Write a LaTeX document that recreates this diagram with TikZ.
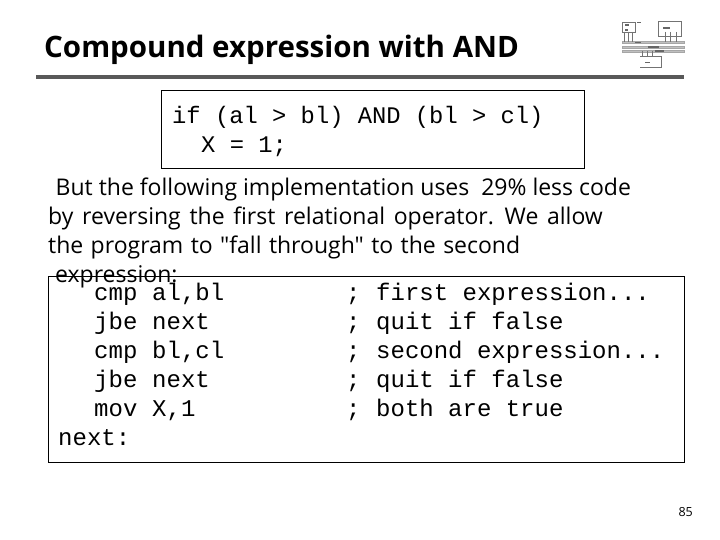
\documentclass[tikz,border=0pt]{standalone}
\usepackage{fontspec}
\setmainfont{Open Sans}
\newfontfamily\bodyfont{Open Sans}
\setmonofont{Liberation Mono}
\begin{document}
\begin{tikzpicture}[x=1pt,y=-1pt,
  titletext/.style={anchor=base west,inner sep=0pt,font=\fontsize{29.5}{29.5}\selectfont\bfseries},
  bodytext/.style={anchor=base west,inner sep=0pt,font=\bodyfont\fontsize{23}{23}\selectfont},
  codetext/.style={anchor=base west,inner sep=0pt,font=\ttfamily\fontsize{23.8}{24}\selectfont},
  asmtext/.style={anchor=base west,inner sep=0pt,font=\ttfamily\fontsize{24}{24}\selectfont},
  framebox/.style={draw=black,line width=0.9pt},
  iconline/.style={draw=black!55,line width=0.5pt},
  iconbar/.style={draw=black!35,fill=black!25,line width=0.3pt},
  iconsmudge/.style={fill=black!60,draw=none}]
\useasboundingbox (0,0) rectangle (720,540);
\fill[white] (0,0) rectangle (720,540);
\node[titletext] (title) at (44,58) {Compound expression with AND};
\fill[black!65] (36,75) rectangle (684,79);
\draw[framebox] (161.5,90.5) rectangle (584.5,168.5);
\node[codetext] (c1) at (172,124) {if (al > bl) AND (bl > cl)};
\node[codetext] (c2) at (201,153) {X = 1;};
\node[bodytext] (b1) at (55.5,195.5) {But the following implementation uses\ \ 29\% less code};
\node[bodytext] (b2) at (48,224.5) {\spaceskip=8.7pt by reversing the first relational operator. We allow};
\node[bodytext] (b3) at (48,253.5) {\spaceskip=7.4pt the program to "fall through" to the second};
\node[bodytext] (b4) at (55,282.5) {expression:};
\draw[framebox] (48.5,276.5) rectangle (684.5,462.5);
\foreach \n/\y/\a/\b/\c in {1/300.5/cmp/{al,bl}/{first expression...},
  2/329.5/jbe/next/{quit if false},
  3/358.5/cmp/{bl,cl}/{second expression...},
  4/387.5/jbe/next/{quit if false},
  5/416.5/mov/{X,1}/{both are true}}{
  \node[asmtext] (op\n) at (94,\y) {\a};
  \node[asmtext] (arg\n) at (152,\y) {\b};
  \node[asmtext] (semi\n) at (346,\y) {;};
  \node[asmtext] (note\n) at (376,\y) {\c};
}
\node[asmtext] (lab) at (58,445) {next:};
\node[anchor=base east,inner sep=0pt,font=\fontsize{12.5}{12.5}\selectfont] (page) at (693,516) {85};
% icon
\draw[iconline] (622.5,22.5) rectangle (635.5,32.5);
\draw[iconline] (658.5,21.5) rectangle (681.5,36.5);
\draw[iconline] (640,56.5) -- (661.5,56.5) -- (661.5,67.5) -- (640,67.5);
\fill[iconbar] (622,41.5) rectangle (684,43.5);
\fill[iconbar] (622,46) rectangle (684,48);
\fill[iconbar] (622,50) rectangle (684,52);
\foreach \x in {624,628,632,665,670,676}{\draw[iconline] (\x,32) -- (\x,42);}
\foreach \x in {642,647,652}{\draw[iconline] (\x,51) -- (\x,57);}
\fill[iconsmudge] (625,24) rectangle (629,26);
\fill[iconsmudge] (625,29) rectangle (628,31);
\fill[iconsmudge] (637,22) rectangle (641,23.5);
\fill[iconsmudge] (663,27) rectangle (670,29);
\fill[iconsmudge] (635,42) rectangle (641,43.5);
\fill[iconsmudge] (648,46.5) rectangle (659,48);
\fill[iconsmudge] (655,50.5) rectangle (664,52);
\fill[iconsmudge] (645,62) rectangle (650,63.5);
\end{tikzpicture}
\end{document}
